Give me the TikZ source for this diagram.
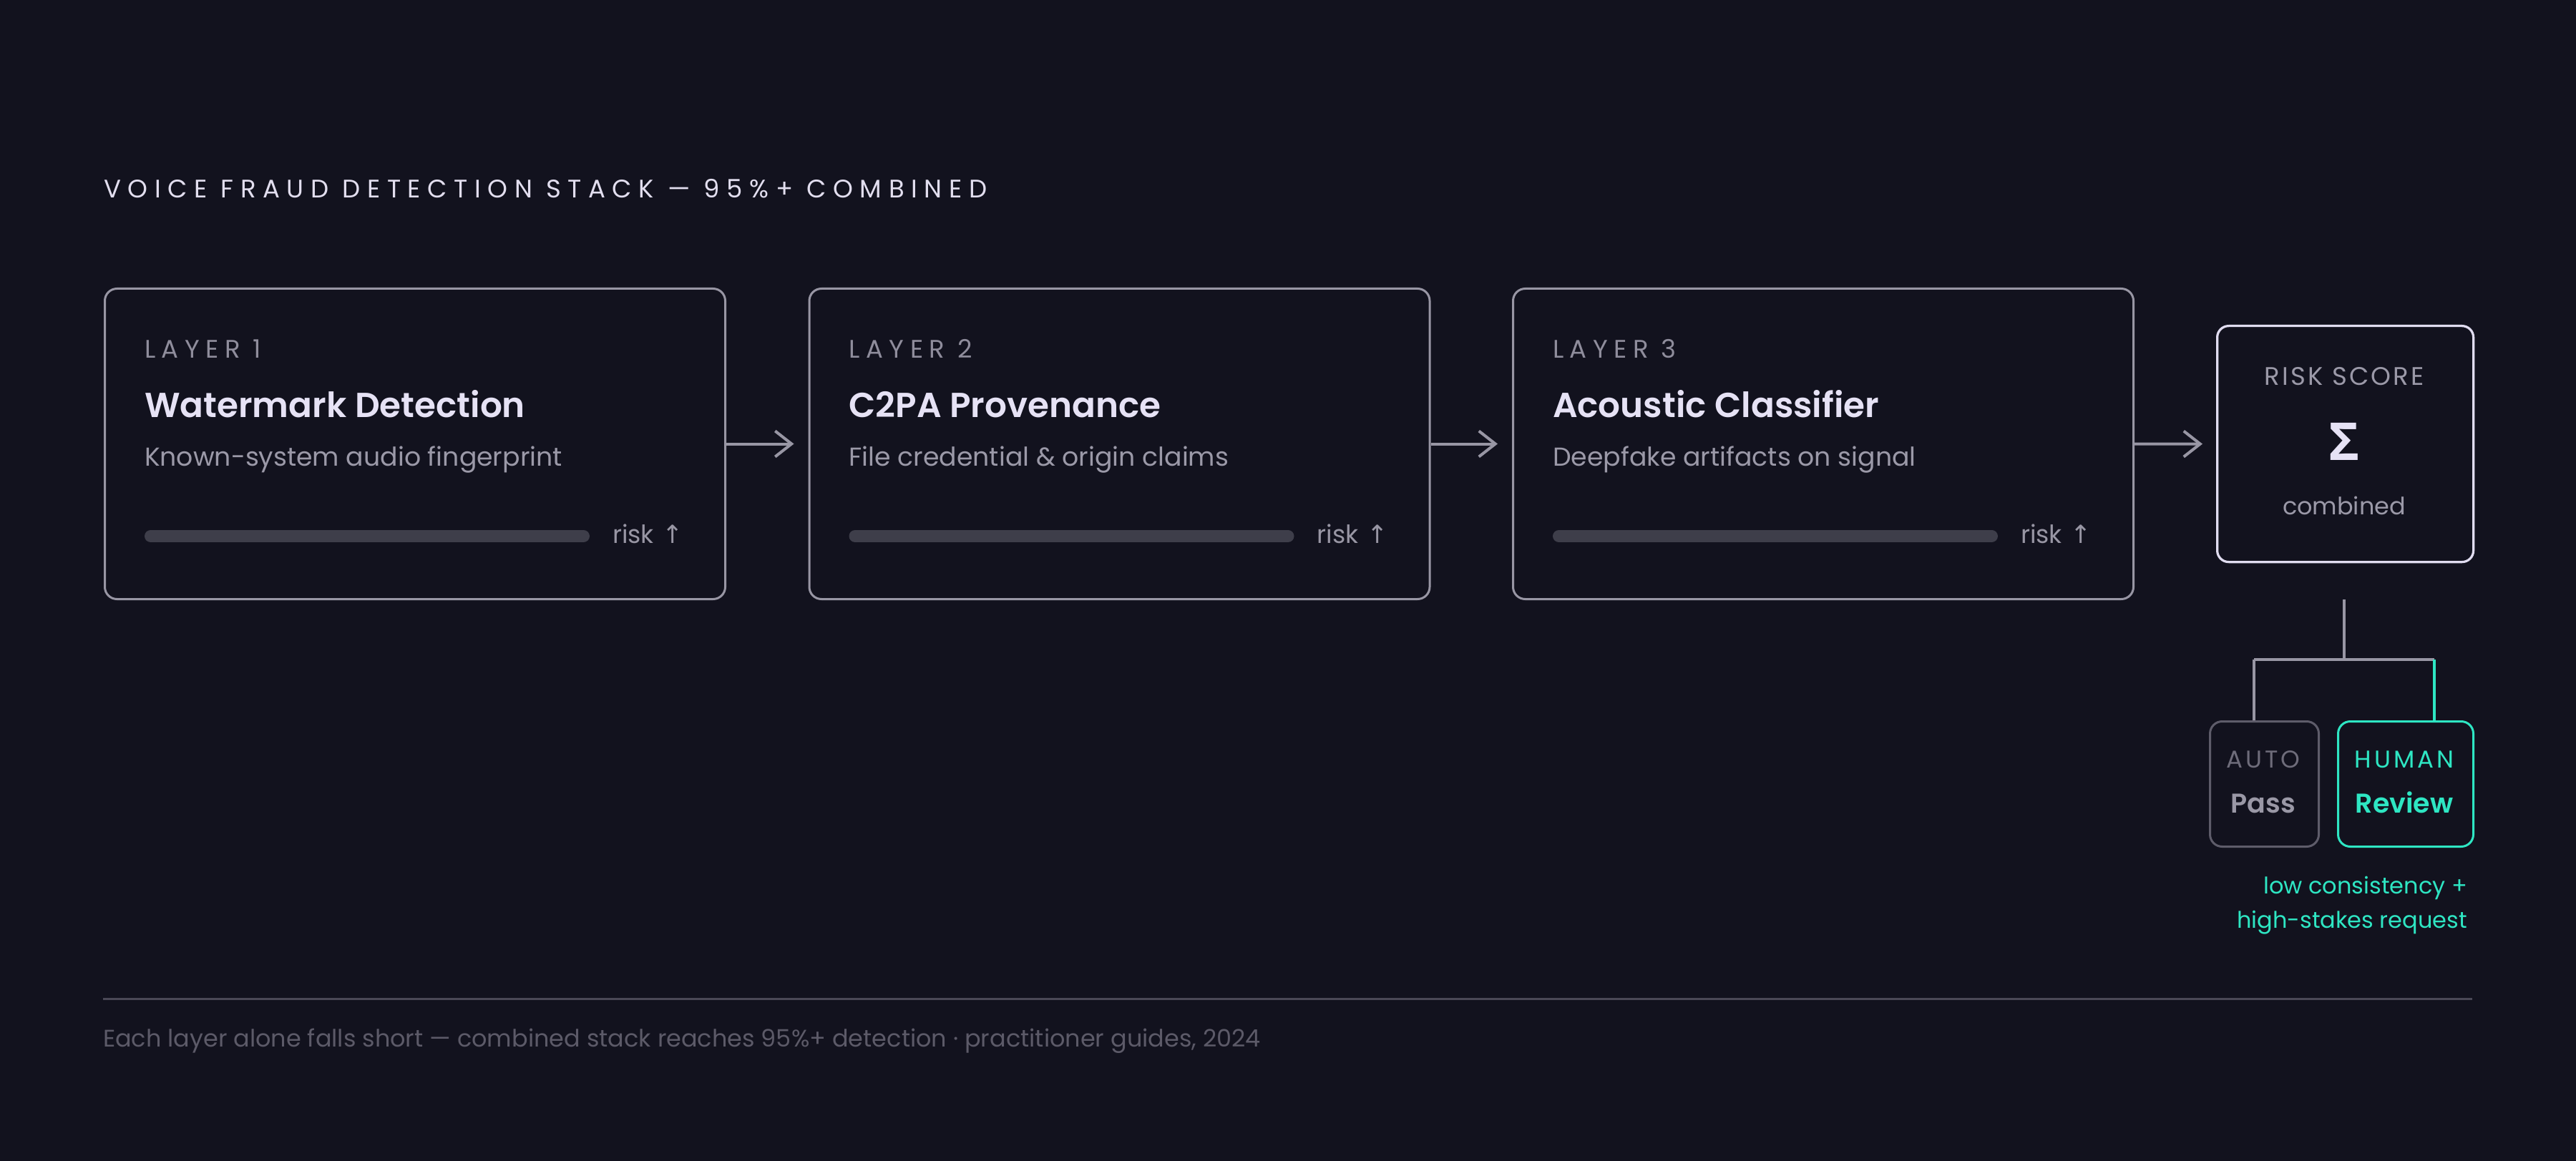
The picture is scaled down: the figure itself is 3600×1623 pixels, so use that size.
\documentclass[tikz,border=0pt]{standalone}
\usepackage{fontspec}
\setmainfont{Poppins}[BoldFont={Poppins SemiBold}]
\newfontfamily\dejavu{DejaVu Sans}
\newfontfamily\opensans{Open Sans}
\newfontfamily\titlefont[LetterSpace=27]{Poppins}
\newfontfamily\spacedfont[LetterSpace=24]{Poppins}
\newfontfamily\spacedfontb[LetterSpace=12]{Poppins}
\newfontfamily\spacedfontc[LetterSpace=9]{Poppins}
\usetikzlibrary{arrows.meta}
\definecolor{bg}{HTML}{12121E}
\definecolor{boxline}{HTML}{9896A4}
\definecolor{riskline}{HTML}{E0DCF0}
\definecolor{titlecol}{HTML}{E2DEEF}
\definecolor{headcol}{HTML}{E6E2F5}
\definecolor{subcol}{HTML}{9B99A8}
\definecolor{labcol}{HTML}{8F8D9C}
\definecolor{barcol}{HTML}{3E3E4A}
\definecolor{tealc}{HTML}{2EE6C3}
\definecolor{passline}{HTML}{5E5C6A}
\definecolor{autocol}{HTML}{6E6C7A}
\definecolor{passcol}{HTML}{9A98A6}
\definecolor{footline}{HTML}{4A4856}
\definecolor{footcol}{HTML}{5C5A68}
\begin{document}
\begin{tikzpicture}[x=0.2pt,y=-0.2pt,
  txt/.style={inner sep=0pt, outer sep=0pt, anchor=base west},
  ctxt/.style={inner sep=0pt, outer sep=0pt, anchor=base},
  layerbox/.style={draw=boxline, line width=0.6pt, rounded corners=3.4pt, minimum width=173.4pt, minimum height=86.8pt, inner sep=0pt, anchor=north west},
  riskbox/.style={draw=riskline, line width=0.65pt, rounded corners=3.2pt, minimum width=71.6pt, minimum height=66pt, inner sep=0pt, anchor=north west},
  passbox/.style={draw=passline, line width=0.6pt, rounded corners=3.4pt, minimum width=30.4pt, minimum height=35pt, inner sep=0pt, anchor=north west},
  revbox/.style={draw=tealc, line width=0.6pt, rounded corners=3.4pt, minimum width=37.8pt, minimum height=35pt, inner sep=0pt, anchor=north west},
  arr/.style={draw=boxline, line width=0.8pt, -{Straight Barb[length=4.6pt, width=7.2pt, line width=0.8pt]}},
  conn/.style={draw=boxline, line width=0.8pt},
  tconn/.style={draw=tealc, line width=0.8pt},
  bar/.style={draw=barcol, line width=3.4pt, line cap=round},
  labf/.style={font=\spacedfont\fontsize{7.1pt}{8.5pt}\selectfont, text=labcol},
  headf/.style={font=\bfseries\fontsize{9.7pt}{11.5pt}\selectfont, text=headcol},
  subf/.style={font=\fontsize{7.25pt}{8.7pt}\selectfont, text=subcol},
  riskf/.style={font=\fontsize{7pt}{8.4pt}\selectfont, text=boxline},
]
\fill[bg] (0,0) rectangle (3600,1623);
\useasboundingbox (0,0) rectangle (3600,1623);

% title
\node[txt, font=\titlefont\fontsize{7.1pt}{8.5pt}\selectfont, text=titlecol] (title) at (145,277) {VOICE FRAUD DETECTION STACK — 95\%+ COMBINED};

% layer boxes
\node[layerbox] (b1) at (145,402) {};
\node[layerbox] (b2) at (1129.5,402) {};
\node[layerbox] (b3) at (2113,402) {};

\node[txt, labf] (l1) at (202,501) {LAYER 1};
\node[txt, headf] (h1) at (202,584) {Watermark Detection};
\node[txt, subf] (s1) at (202,652) {Known-system audio fingerprint};
\draw[bar] (210.5,749.5) -- (815.5,749.5);
\node[txt, riskf] (r1) at (856,760) {risk\hspace{2.4pt}{\dejavu ↑}};

\node[txt, labf] (l2) at (1186.5,501) {LAYER 2};
\node[txt, headf] (h2) at (1186.5,584) {C2PA Provenance};
\node[txt, subf] (s2) at (1186.5,652) {File credential \& origin claims};
\draw[bar] (1195,749.5) -- (1800,749.5);
\node[txt, riskf] (r2) at (1840.5,760) {risk\hspace{2.4pt}{\dejavu ↑}};

\node[txt, labf] (l3) at (2170,501) {LAYER 3};
\node[txt, headf] (h3) at (2170,584) {Acoustic Classifier};
\node[txt, subf] (s3) at (2170,652) {Deepfake artifacts on signal};
\draw[bar] (2178.5,749.5) -- (2783.5,749.5);
\node[txt, riskf] (r3) at (2824,760) {risk\hspace{2.4pt}{\dejavu ↑}};

% risk score box
\node[riskbox] (rs) at (3097,454) {};
\node[ctxt, font=\spacedfontc\fontsize{7.1pt}{8.5pt}\selectfont, text=subcol] (rst) at (3276,539) {RISK SCORE};
\node[ctxt, font=\opensans\bfseries\fontsize{14.6pt}{16pt}\selectfont, text=headcol] (sig) at (3276,644) {Σ};
\node[ctxt, font=\fontsize{6.7pt}{8pt}\selectfont, text=subcol] (comb) at (3276,720) {combined};

% arrows
\draw[arr, shorten >=4pt] (b1.east) -- (b2.west);
\draw[arr, shorten >=4pt] (b2.east) -- (b3.west);
\draw[arr, shorten >=3.8pt] (b3.east) -- (rs.west);

% branch
\coordinate (stemtop) at (3276,838);
\coordinate (j) at (3276,922);
\coordinate (jl) at (3150,922);
\coordinate (jr) at (3402,922);
\node[passbox] (pass) at (3087,1007) {};
\node[revbox] (rev) at (3266,1007) {};
\draw[conn] (stemtop) -- (j);
\draw[conn] (jl) -- (jr);
\draw[conn] (jl) -- (jl |- pass.north);
\draw[tconn] (jr) -- (jr |- rev.north);

\node[ctxt, font=\spacedfontb\fontsize{6.8pt}{8pt}\selectfont, text=autocol] (auto) at (3163,1073) {AUTO};
\node[ctxt, font=\bfseries\fontsize{7.6pt}{9pt}\selectfont, text=passcol] (passt) at (3163,1136) {Pass};
\node[ctxt, font=\spacedfontb\fontsize{6.8pt}{8pt}\selectfont, text=tealc] (human) at (3360,1073) {HUMAN};
\node[ctxt, font=\bfseries\fontsize{7.6pt}{9pt}\selectfont, text=tealc] (revt) at (3360,1136) {Review};

\node[inner sep=0pt, outer sep=0pt, anchor=base east, font=\fontsize{6.4pt}{8pt}\selectfont, text=tealc] (cap1) at (3448,1249) {low consistency +};
\node[inner sep=0pt, outer sep=0pt, anchor=base east, font=\fontsize{6.4pt}{8pt}\selectfont, text=tealc] (cap2) at (3448,1297) {high-stakes request};

% footer
\coordinate (fl) at (144,1396);
\coordinate (fr) at (3455,1396);
\draw[draw=footline, line width=0.6pt] (fl) -- (fr);
\node[txt, font=\fontsize{6.7pt}{8pt}\selectfont, text=footcol] (foot) at (144,1463) {Each layer alone falls short — combined stack reaches 95\%+ detection · practitioner guides, 2024};
\end{tikzpicture}
\end{document}
